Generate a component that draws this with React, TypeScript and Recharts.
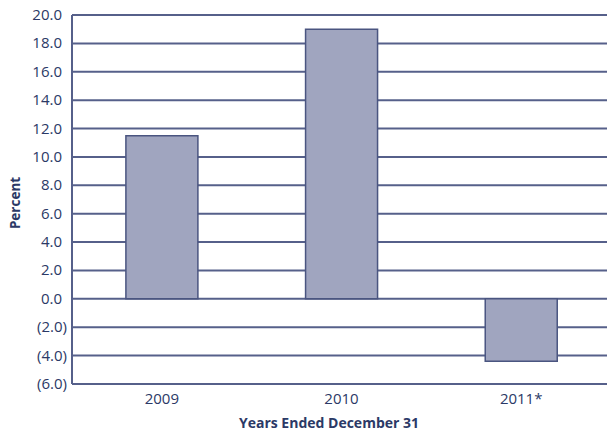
import { Bar, BarChart, CartesianGrid, Label, XAxis, YAxis } from "recharts";

const years = ["2009", "2010", "2011*"];
const percentChange = [11.5, 19.0, -4.4];
const yTicks = [-6, -4, -2, 0, 2, 4, 6, 8, 10, 12, 14, 16, 18, 20];

const data = years.map((year, i) => ({ year, value: percentChange[i] }));

const NAVY = "#2b3966";
const LINE = "#56608a";
const FONT = "'Open Sans', 'Noto Sans', sans-serif";

const formatTick = (v: number) =>
  v < 0 ? `(${Math.abs(v).toFixed(1)})` : v.toFixed(1);

function YTick({ x, y, payload }: any) {
  const neg = payload.value < 0;
  return (
    <text
      x={x}
      y={y}
      dx={neg ? -5 : -10}
      dy={5}
      textAnchor="end"
      fill={NAVY}
      fontSize={15}
      fontFamily={FONT}
    >
      {formatTick(payload.value)}
    </text>
  );
}

function XTick({ x, y, payload }: any) {
  return (
    <text
      x={x}
      y={y}
      dy={20}
      textAnchor="middle"
      fill={NAVY}
      fontSize={15}
      fontFamily={FONT}
    >
      {payload.value}
    </text>
  );
}

export default function App() {
  return (
    <div
      style={{
        position: "absolute",
        left: 0,
        top: 0,
        width: 607,
        height: 431,
        overflow: "hidden",
        background: "#fff",
      }}
    >
      <BarChart
        width={611}
        height={431}
        data={data}
        margin={{ top: 15, right: 0, bottom: 0, left: 0 }}
        barCategoryGap="30%"
      >
        <CartesianGrid
          vertical={false}
          stroke={LINE}
          strokeWidth={2}
          horizontalValues={yTicks}
        />
        <XAxis
          dataKey="year"
          height={47}
          tickLine={false}
          tickSize={0}
          tickMargin={0}
          axisLine={{ stroke: LINE, strokeWidth: 2 }}
          tick={<XTick />}
        >
          <Label
            content={({ viewBox }: any) => (
              <text
                x={329}
                y={viewBox.y + 44}
                textAnchor="middle"
                fill={NAVY}
                fontSize={14}
                fontWeight="bold"
                fontFamily={FONT}
              >
                Years Ended December 31
              </text>
            )}
          />
        </XAxis>
        <YAxis
          width={72}
          domain={[-6, 20]}
          ticks={yTicks}
          interval={0}
          tickLine={false}
          tickSize={0}
          tickMargin={0}
          axisLine={{ stroke: LINE, strokeWidth: 2 }}
          tick={<YTick />}
        >
          <Label
            content={() => (
              <text
                x={20}
                y={203}
                transform="rotate(-90 20 203)"
                textAnchor="middle"
                fill={NAVY}
                fontSize={13.5}
                fontWeight="bold"
                fontFamily={FONT}
              >
                Percent
              </text>
            )}
          />
        </YAxis>
        <Bar
          dataKey="value"
          fill="#a0a5bf"
          stroke="#4a5580"
          strokeWidth={1.5}
          isAnimationActive={false}
        />
      </BarChart>
    </div>
  );
}
